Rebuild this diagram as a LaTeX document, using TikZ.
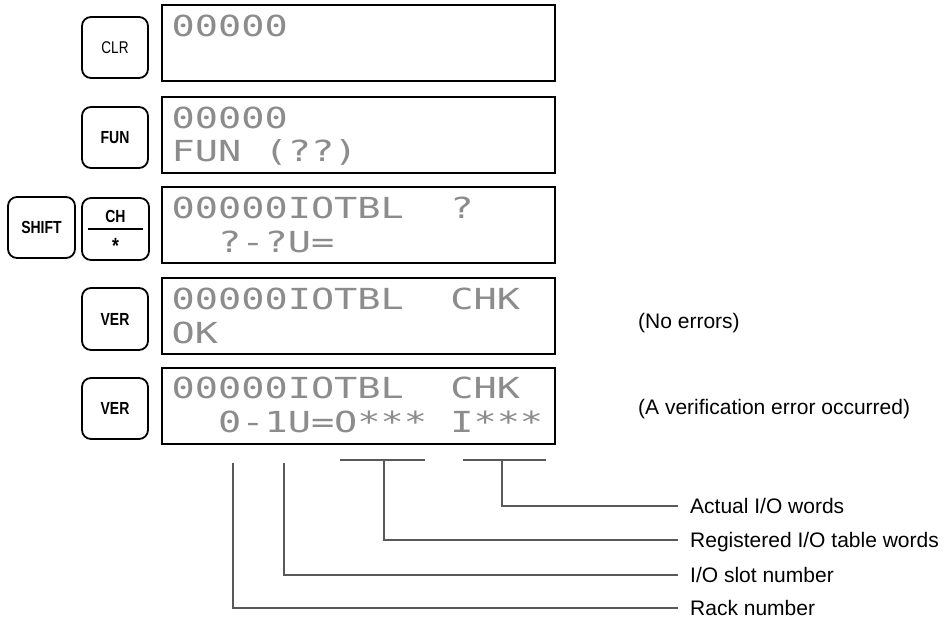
\documentclass[tikz,border=0pt]{standalone}
\usepackage{fontspec}
\setmainfont{Liberation Sans}
\newfontfamily\lcdfont[FakeStretch=1.33]{DejaVu Sans Mono}
\newfontfamily\keyfont[FakeStretch=0.8]{Liberation Sans}
\begin{document}
\begin{tikzpicture}[x=1pt,y=-1pt,
  keybox/.style={draw=black, line width=1.8pt, rounded corners=9pt,
    minimum width=66pt, minimum height=61pt, inner sep=0pt,
    font=\keyfont\fontsize{17.5}{17.5}\selectfont\bfseries},
  lcdbox/.style={draw=black, line width=1.2pt, minimum width=393pt,
    minimum height=76pt, inner sep=0pt},
  lcdtext/.style={anchor=base west, inner sep=0pt, text=black!45,
    font=\lcdfont\fontsize{29}{29}\selectfont},
  leader/.style={draw=black!65, line width=1.3pt},
  bar/.style={draw=black!65, line width=1.6pt},
  lbl/.style={anchor=west, inner xsep=12pt, inner ysep=0pt,
    text height=15pt, text depth=0pt, font=\fontsize{21}{21}\selectfont},
  note/.style={anchor=west, inner sep=0pt,
    text height=15pt, text depth=0pt, font=\fontsize{21}{21}\selectfont}]
\useasboundingbox (0,0) rectangle (944,622);

% keys
\node[keybox, font=\keyfont\fontsize{17}{17}\selectfont] (clr) at (115,47.5) {CLR};
\node[keybox] (fun) at (115,137.5) {FUN};
\node[keybox, minimum width=67pt] (shift) at (41.5,227.5) {SHIFT};
\node[keybox, minimum width=67pt, minimum height=62pt] (ch) at (115.5,229) {};
\node[keybox, minimum height=62pt] (ver1) at (115,319) {VER};
\node[keybox] (ver2) at (115,408.5) {VER};
% CH / * key contents
\node[inner sep=0pt, font=\keyfont\fontsize{17.5}{17.5}\selectfont\bfseries] (chtxt) at (115.5,216) {CH};
\node[inner sep=0pt, font=\keyfont\fontsize{22}{22}\selectfont\bfseries] (star) at (115.5,245.5) {*};
\coordinate (chL) at (88,229);
\coordinate (chR) at (143,229);
\draw[line width=1.6pt] (chL) -- (chR);

% displays
\node[lcdbox] (d1) at (358.5,43) {};
\node[lcdbox] (d2) at (358.5,135) {};
\node[lcdbox] (d3) at (358.5,225) {};
\node[lcdbox] (d4) at (358.5,316) {};
\node[lcdbox] (d5) at (358.5,406) {};

\node[lcdtext] (t1a) at (171.5,36) {00000};
\node[lcdtext] (t2a) at (171.5,128) {00000};
\node[lcdtext] (t2b) at (171.5,161) {FUN\ (??)};
\node[lcdtext] (t3a) at (171.5,218) {00000IOTBL\ \ ?};
\node[lcdtext] (t3b) at (171.5,252) {\ \ ?-?U=};
\node[lcdtext] (t4a) at (171.5,309) {00000IOTBL\ \ CHK};
\node[lcdtext] (t4b) at (171.5,343) {OK};
\node[lcdtext] (t5a) at (171.5,398) {00000IOTBL\ \ CHK};
\node[lcdtext] (t5b) at (171.5,432) {\ \ 0-1U=O***\ I***};

% notes
\node[note] (noerr) at (638,320.5) {(No errors)};
\node[note] (verr) at (638,407) {(A verification error occurred)};

% labels
\node[lbl] (actual) at (678,506) {Actual I/O words};
\node[lbl] (regist) at (678,540) {Registered I/O table words};
\node[lbl] (slot) at (678,575) {I/O slot number};
\node[lbl] (rack) at (678,608) {Rack number};

% leader lines
\coordinate (rackTop) at (233,463);
\coordinate (slotTop) at (284,463);
\coordinate (regL) at (340,460);
\coordinate (regR) at (425,460);
\coordinate (regM) at (384,460);
\coordinate (actL) at (463,460);
\coordinate (actR) at (546,460);
\coordinate (actM) at (502,460);
\draw[bar] (regL) -- (regR);
\draw[bar] (actL) -- (actR);
\draw[leader] (actM) |- (actual.west);
\draw[leader] (regM) |- (regist.west);
\draw[leader] (slotTop) |- (slot.west);
\draw[leader] (rackTop) |- (rack.west);
\end{tikzpicture}
\end{document}
